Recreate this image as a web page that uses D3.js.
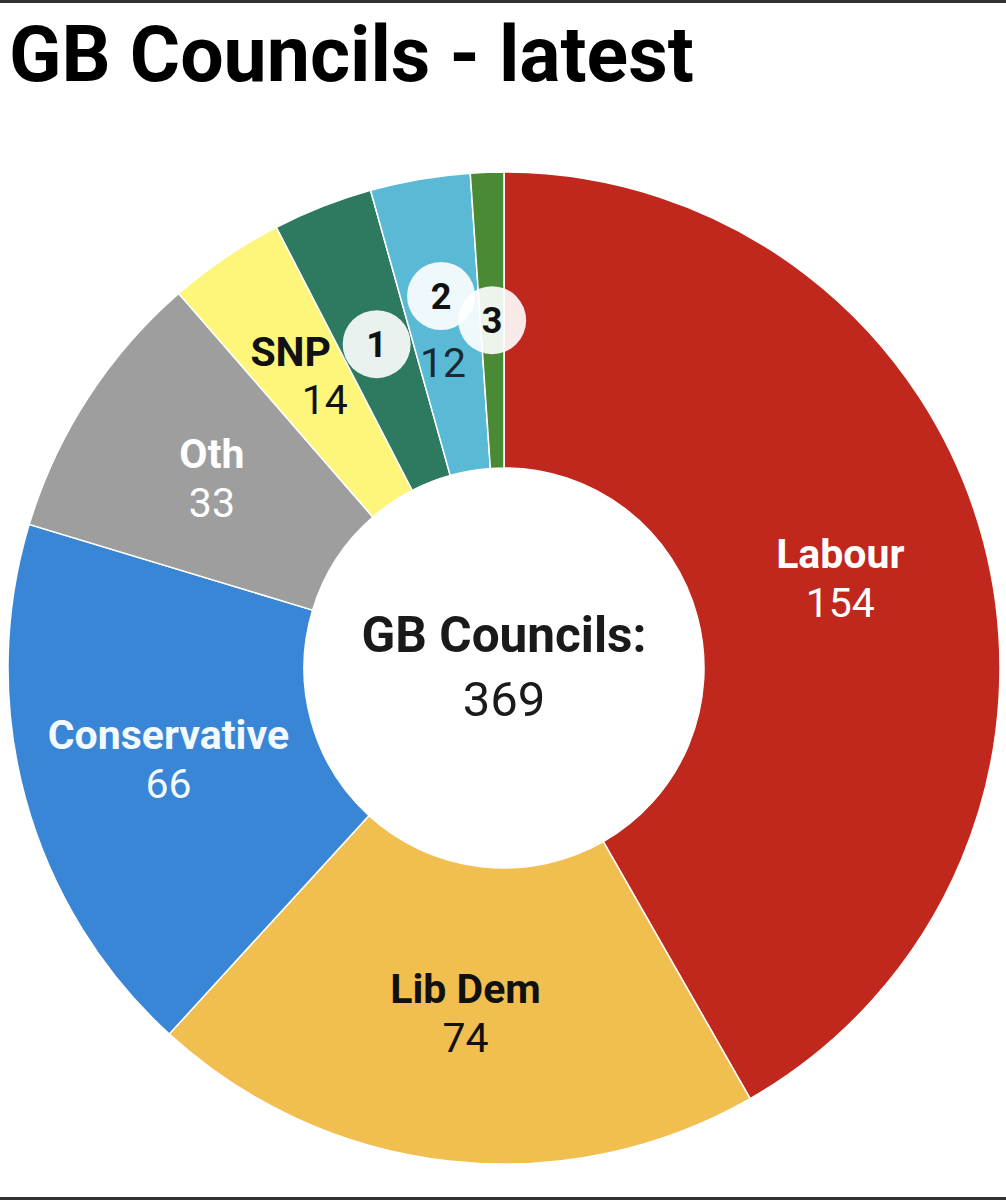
<!DOCTYPE html>
<html>
<head>
<meta charset="utf-8">
<script src="https://cdn.jsdelivr.net/npm/d3@7"></script>
<style>
  html, body { margin: 0; padding: 0; background: #fff; }
  svg { display: block; }
  text { font-family: Roboto, "Noto Sans", sans-serif; }
</style>
</head>
<body>
<svg id="chart" width="1006" height="1200"></svg>
<script>
// ---- data ----
const parties = ["Labour", "Lib Dem", "Conservative", "Oth", "SNP", "1", "2", "3"];
const councils = [154, 74, 66, 33, 14, 12, 12, 4];
const colors = ["#c0271d", "#f1be50", "#3a86d6", "#9e9e9e", "#fdf67a", "#2e7a60", "#5abad6", "#4a8a34"];
const textColors = ["#ffffff", "#111111", "#f2f9ff", "#ffffff", "#111111", "#111111", "#111111", "#111111"];
const badgeParties = ["1", "2", "3"];
const showValue = ["Labour", "Lib Dem", "Conservative", "Oth", "SNP", "2"];
const titleText = "GB Councils - latest";
const centerLabel = "GB Councils:";

const total = d3.sum(councils);
const data = parties.map((p, i) => ({ party: p, value: councils[i], color: colors[i], text: textColors[i] }));

const svg = d3.select("#chart");
const W = 1006, H = 1200;

// frame lines
svg.append("rect").attr("x", 0).attr("y", 0).attr("width", W).attr("height", 3).attr("fill", "#333");
svg.append("rect").attr("x", 0).attr("y", H - 3).attr("width", W).attr("height", 3).attr("fill", "#333");

// title
svg.append("text").attr("x", 9).attr("y", 81)
  .attr("font-size", 77).attr("font-weight", 700).attr("fill", "#000")
  .text(titleText);

const cx = 504, cy = 668, rOuter = 496, rInner = 200;
const g = svg.append("g").attr("transform", `translate(${cx},${cy})`);

const pie = d3.pie().sort(null).value(d => d.value);
const arcs = pie(data);
const arc = d3.arc().innerRadius(rInner).outerRadius(rOuter);
const labelArc = d3.arc().innerRadius(rInner).outerRadius(rOuter);

g.selectAll("path.slice").data(arcs).join("path")
  .attr("class", "slice")
  .attr("d", arc)
  .attr("fill", d => d.data.color)
  .attr("stroke", "#ffffff")
  .attr("stroke-width", 1.5);

// center text
g.append("text").attr("x", 0).attr("y", -16).attr("text-anchor", "middle")
  .attr("font-size", 49.5).attr("font-weight", 700).attr("fill", "#1a1a1a").text(centerLabel);
g.append("text").attr("x", 0).attr("y", 48).attr("text-anchor", "middle")
  .attr("font-size", 49).attr("font-weight", 400).attr("fill", "#1a1a1a").text(total);

// nudges for crowded labels (layout only)
const nudge = {
  "SNP": { nx: -18, ny: -14, vx: 16, vy: 34 },
  "2": { bx: -4, by: -29, vx: -2, vy: 52 }
};

const LF = 41;
const labels = g.append("g");
arcs.forEach(d => {
  const [x, y] = labelArc.centroid(d);
  const p = d.data.party;
  const n = nudge[p] || {};
  if (badgeParties.includes(p)) {
    const bx = x + (n.bx || 0), by = y + (n.by || 0);
    labels.append("circle").attr("cx", bx).attr("cy", by).attr("r", 34)
      .attr("fill", "#ffffff").attr("fill-opacity", 0.9);
    labels.append("text").attr("x", bx).attr("y", by + 13).attr("text-anchor", "middle")
      .attr("font-size", 36).attr("font-weight", 700).attr("fill", "#111").text(p);
    if (showValue.includes(p)) {
      labels.append("text").attr("x", x + (n.vx || 0)).attr("y", y + n.vy).attr("text-anchor", "middle")
        .attr("font-size", LF).attr("font-weight", 400).attr("fill", "#1a2a33").text(d.data.value);
    }
  } else {
    labels.append("text").attr("x", x + (n.nx || 0)).attr("y", y + (n.ny !== undefined ? n.ny : -11))
      .attr("text-anchor", "middle").attr("font-size", LF).attr("font-weight", 700)
      .attr("fill", d.data.text).text(p);
    labels.append("text").attr("x", x + (n.vx || 0)).attr("y", y + (n.vy !== undefined ? n.vy : 38))
      .attr("text-anchor", "middle").attr("font-size", LF).attr("font-weight", 400)
      .attr("fill", d.data.text).text(d.data.value);
  }
});
</script>
</body>
</html>
